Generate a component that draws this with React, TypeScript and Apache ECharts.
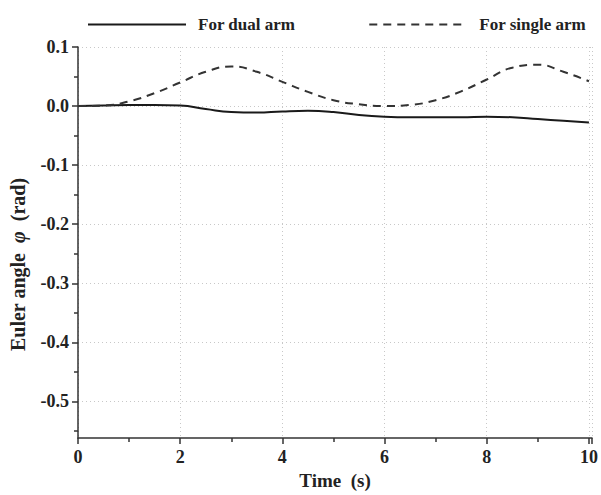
import React, { useEffect, useRef } from "react";
import * as echarts from "echarts";

const times = [0, 0.5, 1, 1.5, 2, 2.5, 3, 3.5, 4, 4.5, 5, 5.5, 6, 6.5, 7, 7.5, 8, 8.5, 9, 9.5, 10];
const dualArm = [0, 0.001, 0.002, 0.002, 0.001, -0.005, -0.01, -0.011, -0.009, -0.008, -0.01, -0.015, -0.018, -0.019, -0.019, -0.019, -0.018, -0.019, -0.022, -0.025, -0.028];
const singleArm = [0, 0.001, 0.008, 0.022, 0.04, 0.058, 0.067, 0.058, 0.041, 0.024, 0.01, 0.003, 0, 0.002, 0.01, 0.025, 0.045, 0.065, 0.07, 0.058, 0.042];
const yMajorTicks = [0.1, 0, -0.1, -0.2, -0.3, -0.4, -0.5];
const yMinorTicks = [0.05, -0.05, -0.15, -0.25, -0.35, -0.45, -0.55];
const seriesNames = ["For dual arm", "For single arm"];

const FONT = "'Liberation Serif', 'Times New Roman', serif";
const INK = "#222";

export default function App() {
  const ref = useRef<HTMLDivElement>(null);
  useEffect(() => {
    if (!ref.current) return;
    const chart = echarts.init(ref.current, undefined, { renderer: "svg" });
    const labelStyle = { fontFamily: FONT, fontWeight: "bold" as const, fontSize: 18, color: INK };
    chart.setOption({
      animation: false,
      backgroundColor: "#fff",
      legend: {
        left: 82,
        top: 11,
        itemWidth: 98,
        itemHeight: 14,
        itemGap: 73,
        itemStyle: { opacity: 0 },
        textStyle: { ...labelStyle, fontSize: 17, padding: [0, 0, 0, 7] },
        data: seriesNames,
      },
      grid: { left: 77, right: 9, top: 47, bottom: 50, containLabel: false },
      xAxis: {
        type: "value",
        min: 0,
        max: 10.06,
        interval: 2,
        name: "Time  (s)",
        nameLocation: "middle",
        nameGap: 32,
        nameTextStyle: { ...labelStyle, fontSize: 19 },
        axisLine: { show: true, onZero: false, lineStyle: { color: "#333", width: 1.5 } },
        axisTick: { show: true, inside: false, length: 6, lineStyle: { color: "#333", width: 1.5 } },
        minorTick: { show: true, splitNumber: 2, length: 4, lineStyle: { color: "#333", width: 1.5 } },
        axisLabel: { ...labelStyle, margin: 10 },
        splitLine: { show: true, lineStyle: { color: "#c8c8c8", type: [1, 3], width: 1 } },
      },
      yAxis: [
        {
          type: "value",
          min: -0.562,
          max: 0.1,
          name: "{b|Euler angle  }{i|\u03c6}{b|  (rad)}",
          nameLocation: "middle",
          nameGap: 50,
          nameRotate: 90,
          nameTextStyle: {
            padding: [0, 44, 0, 0],
            rich: {
              b: { ...labelStyle, fontSize: 20 },
              i: { ...labelStyle, fontSize: 20, fontStyle: "italic" },
            },
          },
          axisLine: { show: true, lineStyle: { color: "#333", width: 1.5 } },
          axisTick: { show: true, inside: false, length: 6, customValues: yMajorTicks, lineStyle: { color: "#333", width: 1.5 } },
          axisLabel: {
            ...labelStyle,
            margin: 9,
            customValues: yMajorTicks,
            formatter: (v: number) => v.toFixed(1),
          },
          splitLine: { show: true, lineStyle: { color: "#c8c8c8", type: [1, 3], width: 1 } },
        },
        {
          type: "value",
          min: -0.562,
          max: 0.1,
          position: "left",
          axisLine: { show: false },
          axisTick: { show: true, inside: false, length: 4, customValues: yMinorTicks, lineStyle: { color: "#333", width: 1.5 } },
          axisLabel: { show: false, customValues: yMinorTicks },
          splitLine: { show: false },
        },
      ],
      series: [
        {
          name: seriesNames[0],
          type: "line",
          smooth: true,
          symbol: "none",
          yAxisIndex: 0,
          lineStyle: { color: "#1a1a1a", width: 2, type: "solid" },
          itemStyle: { color: "#1a1a1a" },
          data: times.map((t, i) => [t, dualArm[i]]),
        },
        {
          name: seriesNames[1],
          type: "line",
          smooth: true,
          symbol: "none",
          yAxisIndex: 0,
          lineStyle: { color: "#333", width: 2, type: [8, 6] },
          itemStyle: { color: "#333" },
          data: times.map((t, i) => [t, singleArm[i]]),
        },
      ],
    });
    return () => chart.dispose();
  }, []);
  return <div ref={ref} style={{ width: 601, height: 495, position: "absolute", left: 0, top: 0 }} />;
}
